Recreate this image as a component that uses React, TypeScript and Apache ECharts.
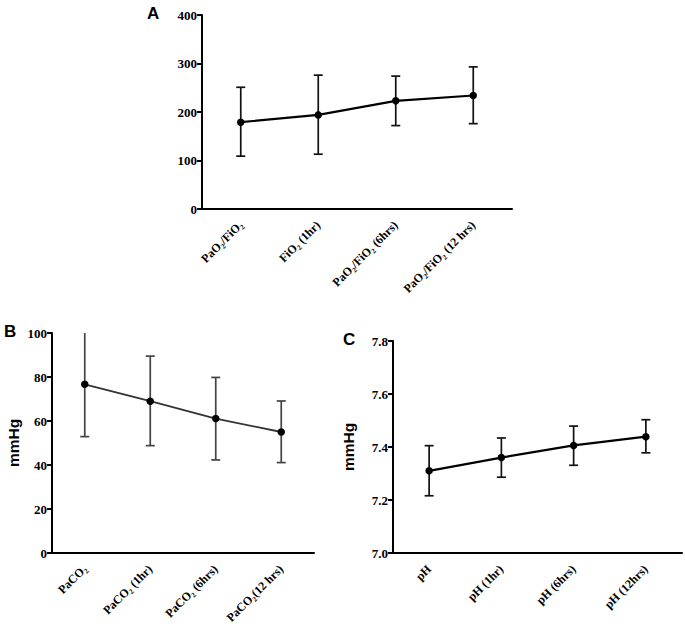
import React, { useEffect, useRef } from "react";
import * as echarts from "echarts";

const catsA = ["PaO₂/FiO₂", "FiO₂ (1hr)", "PaO₂/FiO₂ (6hrs)", "PaO₂/FiO₂ (12 hrs)"];
const meanA = [179, 194, 223, 234];
const lowA = [109, 113, 172, 176];
const highA = [251, 276, 274, 293];

const catsB = ["PaCO₂", "PaCO₂ (1hr)", "PaCO₂ (6hrs)", "PaCO₂(12 hrs)"];
const meanB = [76.7, 69.0, 61.1, 55.0];
const lowB = [52.9, 48.8, 42.3, 41.1];
const highB = [100, 89.5, 79.8, 69.1];

const catsC = ["pH", "pH (1hr)", "pH (6hrs)", "pH (12hrs)"];
const meanC = [7.31, 7.36, 7.406, 7.439];
const lowC = [7.216, 7.286, 7.331, 7.378];
const highC = [7.405, 7.434, 7.479, 7.503];

const yTicksA = [0, 100, 200, 300, 400];
const yTicksB = [0, 20, 40, 60, 80, 100];
const yTicksC = [7.0, 7.2, 7.4, 7.6, 7.8];

const labelFont = "Liberation Serif";

export default function App() {
  const ref = useRef<HTMLDivElement>(null);
  useEffect(() => {
    if (!ref.current) return;
    const chart = echarts.init(ref.current, null, { renderer: "svg" });

    const errRender = (color: string, yMax: number) => (params: any, api: any) => {
      const x = api.value(0);
      const lo = api.value(1);
      const hi = api.value(2);
      const pLo = api.coord([x, lo]);
      const pHi = api.coord([x, hi]);
      const cap = 4.5;
      const style = { stroke: color, lineWidth: 1.7 };
      const children: any[] = [
        { type: "line", shape: { x1: pLo[0], y1: pLo[1], x2: pHi[0], y2: pHi[1] }, style },
        { type: "line", shape: { x1: pLo[0] - cap, y1: pLo[1], x2: pLo[0] + cap, y2: pLo[1] }, style },
      ];
      if (hi < yMax) {
        children.push({ type: "line", shape: { x1: pHi[0] - cap, y1: pHi[1], x2: pHi[0] + cap, y2: pHi[1] }, style });
      }
      return { type: "group", children };
    };

    const xAxis = (idx: number, cats: string[]) => ({
      type: "category",
      gridIndex: idx,
      data: cats,
      boundaryGap: true,
      axisLine: { lineStyle: { color: "#000", width: 2 } },
      axisTick: { alignWithLabel: true, length: 5, lineStyle: { color: "#000", width: 2 } },
      axisLabel: {
        rotate: 45,
        interval: 0,
        color: "#000",
        fontFamily: labelFont,
        fontWeight: "bold",
        fontSize: 12,
        margin: 14,
      },
      splitLine: { show: false },
    });

    const yAxis = (idx: number, min: number, max: number, interval: number, fmt: (v: number) => string, name?: string, nameGap?: number) => ({
      type: "value",
      gridIndex: idx,
      min,
      max,
      interval,
      name: name || "",
      nameLocation: "middle",
      nameRotate: 90,
      nameGap: nameGap || 0,
      nameTextStyle: { color: "#000", fontFamily: "Liberation Sans", fontWeight: "bold", fontSize: 15.5 },
      axisLine: { show: true, lineStyle: { color: "#000", width: 2 } },
      axisTick: { show: true, length: 5, lineStyle: { color: "#000", width: 2 } },
      axisLabel: {
        color: "#000",
        fontFamily: labelFont,
        fontWeight: "bold",
        fontSize: 13,
        margin: 5,
        formatter: fmt,
      },
      splitLine: { show: false },
    });

    const idxs = [0, 1, 2, 3];
    const errData = (lo: number[], hi: number[]) => idxs.map((i) => [i, lo[i], hi[i]]);

    chart.setOption({
      animation: false,
      backgroundColor: "#fff",
      grid: [
        { left: 202, top: 15, width: 310, height: 194 },
        { left: 52, top: 333, width: 262, height: 220 },
        { left: 393, top: 341, width: 289, height: 212 },
      ],
      xAxis: [xAxis(0, catsA), xAxis(1, catsB), xAxis(2, catsC)],
      yAxis: [
        yAxis(0, yTicksA[0], yTicksA[yTicksA.length - 1], 100, (v) => String(v)),
        yAxis(1, yTicksB[0], yTicksB[yTicksB.length - 1], 20, (v) => String(v), "mmHg", 31),
        yAxis(2, yTicksC[0], yTicksC[yTicksC.length - 1], 0.2, (v) => v.toFixed(1), "mmHg", 37),
      ],
      graphic: [
        { type: "text", left: 147, top: 5, style: { text: "A", font: "bold 17px 'Liberation Sans'", fill: "#000" } },
        { type: "text", left: 4, top: 323, style: { text: "B", font: "bold 17px 'Liberation Sans'", fill: "#000" } },
        { type: "text", left: 343, top: 331, style: { text: "C", font: "bold 17px 'Liberation Sans'", fill: "#000" } },
      ],
      series: [
        {
          type: "custom",
          xAxisIndex: 0,
          yAxisIndex: 0,
          renderItem: errRender("#111", 400),
          data: errData(lowA, highA),
          z: 2,
        },
        {
          type: "line",
          xAxisIndex: 0,
          yAxisIndex: 0,
          data: meanA,
          symbol: "circle",
          symbolSize: 7.5,
          lineStyle: { color: "#000", width: 2.2 },
          itemStyle: { color: "#000" },
          z: 3,
        },
        {
          type: "custom",
          xAxisIndex: 1,
          yAxisIndex: 1,
          renderItem: errRender("#444", 100),
          data: errData(lowB, highB),
          z: 2,
        },
        {
          type: "line",
          xAxisIndex: 1,
          yAxisIndex: 1,
          data: meanB,
          symbol: "circle",
          symbolSize: 7.5,
          lineStyle: { color: "#333", width: 1.8 },
          itemStyle: { color: "#000" },
          z: 3,
        },
        {
          type: "custom",
          xAxisIndex: 2,
          yAxisIndex: 2,
          renderItem: errRender("#111", 7.8),
          data: errData(lowC, highC),
          z: 2,
        },
        {
          type: "line",
          xAxisIndex: 2,
          yAxisIndex: 2,
          data: meanC,
          symbol: "circle",
          symbolSize: 7.5,
          lineStyle: { color: "#000", width: 2.2 },
          itemStyle: { color: "#000" },
          z: 3,
        },
      ],
    });
    return () => chart.dispose();
  }, []);

  return (
    <div
      ref={ref}
      style={{ position: "fixed", left: 0, top: 0, width: 685, height: 627, background: "#fff" }}
    />
  );
}
